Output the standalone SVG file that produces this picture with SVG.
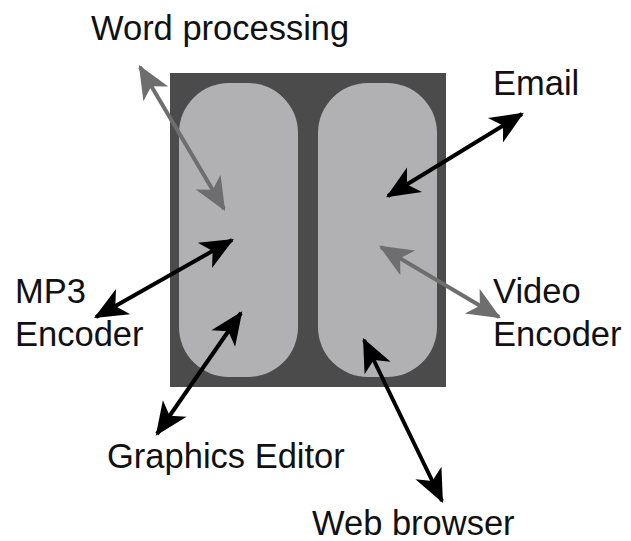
<svg xmlns="http://www.w3.org/2000/svg" width="631" height="541" viewBox="0 0 631 541">
<style>
.lbl{font-family:"Liberation Sans",Arial,sans-serif;font-size:34.5px;fill:#111}
.blk{stroke:#000;stroke-width:4;fill:none;marker-start:url(#hb);marker-end:url(#hb)}
.gry{stroke:#6e6e6e;stroke-width:4;fill:none;marker-start:url(#hg);marker-end:url(#hg)}
</style>
<defs>
<marker id="hb" markerUnits="userSpaceOnUse" markerWidth="40" markerHeight="40" viewBox="-32 -16 36 32" refX="0" refY="0" orient="auto-start-reverse"><path d="M2,0 L-28,-13 L-20,0 L-28,13 Z" fill="#000"/></marker>
<marker id="hg" markerUnits="userSpaceOnUse" markerWidth="40" markerHeight="40" viewBox="-32 -16 36 32" refX="0" refY="0" orient="auto-start-reverse"><path d="M2,0 L-28,-13 L-20,0 L-28,13 Z" fill="#6e6e6e"/></marker>
</defs>
<g id="computer">
<rect x="170" y="73" width="276" height="314" fill="#4a4b4a"/>
</g>
<g id="left-pane">
<rect x="179" y="83" width="119" height="294" rx="50" ry="50" fill="#b1b1b3"/>
</g>
<g id="right-pane">
<rect x="318" y="83" width="119" height="294" rx="50" ry="50" fill="#b1b1b3"/>
</g>
<g id="connectors">
<line class="gry" x1="140" y1="67" x2="224" y2="209"/>
<line class="blk" x1="388" y1="196" x2="522" y2="114"/>
<line class="blk" x1="232" y1="240" x2="96" y2="317"/>
<line class="blk" x1="241" y1="313" x2="157" y2="434"/>
<line class="gry" x1="381" y1="247" x2="499" y2="317"/>
<line class="blk" x1="364" y1="340" x2="442" y2="501"/>
</g>
<g id="word-processing"><text class="lbl" x="91" y="40">Word processing</text></g>
<g id="email"><text class="lbl" x="493" y="95">Email</text></g>
<g id="mp3-encoder"><text class="lbl" x="15" y="303">MP3</text><text class="lbl" x="15" y="346">Encoder</text></g>
<g id="video-encoder"><text class="lbl" x="493" y="303">Video</text><text class="lbl" x="493" y="346">Encoder</text></g>
<g id="graphics-editor"><text class="lbl" x="107" y="468">Graphics Editor</text></g>
<g id="web-browser"><text class="lbl" x="312" y="535">Web browser</text></g>
</svg>
